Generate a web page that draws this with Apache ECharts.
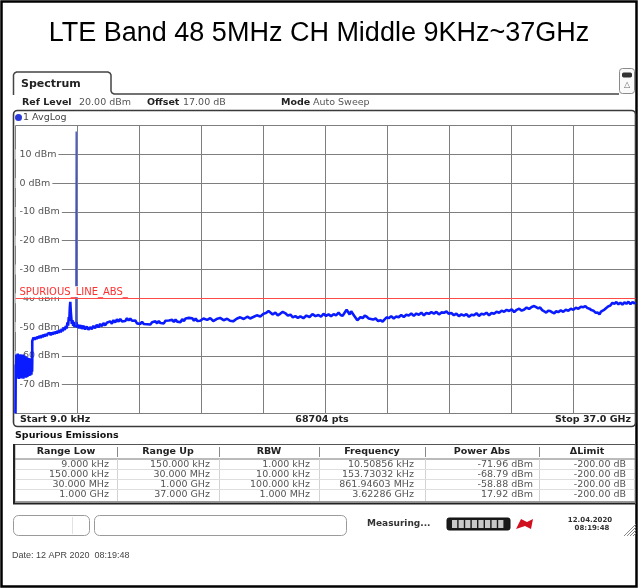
<!DOCTYPE html>
<html>
<head>
<meta charset="utf-8">
<title>LTE Band 48 spurious emissions</title>
<script src="https://cdn.jsdelivr.net/npm/echarts@6/dist/echarts.min.js"></script>
<style>
  html, body { margin: 0; padding: 0; background: #fff; }
  #chart { width: 638px; height: 588px; }
</style>
</head>
<body>
<div id="chart"></div>
<script>
// ---- Sweep settings ----
const chartTitle = 'LTE Band 48 5MHz CH Middle 9KHz~37GHz';
const startGHz = 0.000009;
const stopGHz = 37;
const sweepPoints = 68704;
const refLevelDbm = 20;
const offsetDb = 17;
const limitLevelDbm = -40;
const limitName = 'SPURIOUS_LINE_ABS_';

// ---- Level axis ticks ----
const levelTicks = [10, 0, -10, -20, -30, -40, -50, -60, -70];
const levelTickLabels = ['10 dBm', '0 dBm', '-10 dBm', '-20 dBm', '-30 dBm', '-40 dBm', '-50 dBm', '-60 dBm', '-70 dBm'];

// ---- Spurious emission table (one entry per sub-range) ----
const tableHeaders = ['Range Low', 'Range Up', 'RBW', 'Frequency', 'Power Abs', '\u0394Limit'];
const rangeLow = ['9.000 kHz', '150.000 kHz', '30.000 MHz', '1.000 GHz'];
const rangeUp = ['150.000 kHz', '30.000 MHz', '1.000 GHz', '37.000 GHz'];
const rbw = ['1.000 kHz', '10.000 kHz', '100.000 kHz', '1.000 MHz'];
const peakFreqGHz = [0.00001050856, 0.00015373032, 0.86194603, 3.62286];
const powerAbsDbm = [-71.96, -68.79, -58.88, 17.92];
const deltaLimitDb = [-200, -200, -200, -200];

// ---- AvgLog trace, [frequency GHz, level dBm] ----
const sweepTrace = [
  [0.000009,-80],[0.015,-63],[0.03,-67.5],[0.05,-59.5],[0.07,-66.8],[0.09,-60.2],[0.11,-67.6],[0.13,-59.2],
  [0.15,-66.5],[0.17,-60.8],[0.19,-68.0],[0.21,-59.6],[0.23,-67.2],[0.25,-60.0],[0.27,-66.4],[0.29,-59.4],
  [0.31,-67.8],[0.33,-60.6],[0.35,-66.9],[0.37,-59.8],[0.39,-67.4],[0.41,-60.3],[0.43,-66.2],[0.45,-59.5],
  [0.47,-67.9],[0.49,-60.9],[0.51,-66.7],[0.53,-59.9],[0.55,-67.1],[0.57,-60.4],[0.59,-66.0],[0.61,-60.1],
  [0.63,-67.6],[0.65,-61.0],[0.67,-66.6],[0.69,-60.5],[0.71,-67.3],[0.73,-61.2],[0.75,-66.1],[0.77,-60.7],
  [0.79,-67.0],[0.81,-61.4],[0.83,-66.4],[0.85,-60.8],[0.87,-66.9],[0.89,-61.5],[0.91,-65.8],[0.93,-61.1],
  [0.95,-66.5],[0.97,-61.8],[0.99,-65.5],[1.0,-62.0],[1.0,-54.8],
  [1.02,-54.6],[1.08,-53.6],[1.14,-54.4],[1.20,-53.5],[1.26,-54.2],[1.32,-53.2],[1.38,-53.9],[1.44,-53.0],
  [1.50,-53.8],[1.56,-52.8],[1.62,-53.5],[1.68,-52.6],[1.74,-53.3],[1.80,-52.4],[1.86,-53.1],[1.92,-52.3],
  [1.98,-52.9],[2.04,-52.0],[2.10,-52.8],[2.16,-51.9],[2.22,-52.6],[2.28,-51.7],[2.34,-52.4],[2.40,-51.5],
  [2.46,-52.2],[2.52,-51.3],[2.58,-52.0],[2.64,-51.0],[2.70,-51.8],[2.76,-50.6],[2.82,-51.4],[2.88,-50.2],
  [2.94,-51.0],[3.00,-49.6],[3.05,-50.5],[3.10,-48.4],[3.14,-49.5],[3.18,-46.5],[3.21,-47.8],[3.24,-43.5],
  [3.27,-41.2],[3.30,-44.6],[3.33,-46.8],[3.36,-48.9],[3.40,-47.6],[3.44,-49.6],[3.48,-48.2],[3.52,-50.0],
  [3.56,-48.6],[3.60,-49.4],[3.64,-48.3],[3.68,-50.2],
  [3.72,-49.2],[3.80,-50.4],[3.88,-49.3],[3.96,-50.6],[4.05,-49.5],[4.15,-50.8],[4.25,-49.8],[4.35,-50.9],
  [4.45,-50.0],[4.55,-50.7],[4.65,-49.6],[4.75,-50.4],[4.85,-49.2],[4.95,-50.1],[5.05,-48.9],[5.15,-49.7],
  [5.25,-48.6],[5.35,-49.4],[5.45,-48.5],[5.55,-49.1],[5.65,-48.0],[5.75,-48.8],[5.85,-47.6],[5.95,-48.4],
  [6.05,-47.3],[6.15,-48.1],[6.25,-47.2],[6.35,-48.0],[6.45,-47.4],[6.55,-47.9],[6.65,-46.9],[6.75,-47.7],
  [6.85,-47.0],[6.95,-47.8],[7.05,-48.3],[7.15,-47.7],[7.25,-48.7],[7.35,-48.1],[7.45,-48.9],[7.55,-48.2],
  [7.65,-48.9],[7.75,-48.3],[7.85,-49.0],[7.95,-48.4],[8.05,-49.1],[8.15,-48.3],[8.25,-48.8],[8.35,-48.0],
  [8.45,-48.7],[8.55,-47.9],[8.65,-48.6],[8.75,-48.0],[8.85,-48.7],[8.95,-47.8],[9.05,-48.4],[9.15,-47.7],
  [9.25,-48.3],[9.35,-47.5],[9.45,-48.2],[9.55,-47.4],[9.65,-48.1],[9.75,-47.6],[9.85,-48.3],[9.95,-47.2],
  [10.05,-47.9],[10.15,-47.0],[10.25,-47.6],[10.35,-46.8],[10.45,-47.4],[10.55,-46.9],[10.65,-47.8],[10.75,-47.0],
  [10.85,-47.9],[10.95,-47.3],
  [11.02,-47.8],[11.22,-47.0],[11.44,-47.5],[11.62,-46.9],[11.80,-47.9],[12.00,-47.2],[12.21,-46.8],[12.42,-47.6],
  [12.63,-47.1],[12.80,-47.8],[12.99,-48.0],[13.20,-47.1],[13.41,-46.6],[13.62,-47.2],[13.83,-46.4],[14.00,-47.0],
  [14.19,-46.5],[14.40,-45.9],[14.61,-46.3],[14.80,-45.4],[14.97,-45.0],[15.10,-44.4],[15.21,-44.9],[15.35,-45.6],
  [15.51,-45.0],[15.65,-45.9],[15.81,-45.3],[15.95,-44.7],[16.11,-45.2],[16.25,-46.0],[16.41,-45.7],[16.55,-46.6],
  [16.70,-46.2],[16.85,-46.8],[17.00,-46.3],[17.18,-46.9],[17.36,-46.0],[17.55,-46.5],[17.72,-45.5],[17.90,-46.2],
  [18.08,-45.8],[18.23,-46.4],[18.38,-45.4],[18.53,-46.1],[18.68,-45.6],[18.83,-46.2],[18.98,-45.5],[19.13,-45.9],
  [19.28,-45.0],[19.40,-45.8],[19.52,-46.1],[19.64,-45.0],[19.76,-44.0],[19.85,-44.6],[19.94,-45.6],[20.03,-44.5],
  [20.12,-45.0],[20.20,-46.0],[20.30,-46.3],[20.40,-47.6],[20.48,-47.0],[20.60,-46.5],[20.72,-46.9],[20.84,-46.0],
  [20.96,-46.4],[21.08,-47.0],[21.19,-46.6],[21.34,-47.4],[21.49,-47.0],[21.64,-47.9],[21.79,-47.6],[21.91,-48.1],
  [22.03,-47.3],[22.15,-46.6],[22.27,-46.9],[22.42,-46.2],[22.57,-47.0],[22.72,-46.3],[22.87,-46.6],[23.02,-45.8],
  [23.17,-46.5],[23.32,-45.7],[23.47,-46.0],[23.62,-45.3],[23.77,-46.1],[23.92,-45.3],[24.07,-45.7],[24.22,-45.0],
  [24.37,-45.9],[24.52,-45.1],[24.67,-45.4],[24.82,-44.8],[24.97,-45.3],[25.12,-44.7],[25.27,-45.6],[25.42,-44.9],
  [25.57,-45.0],[25.72,-44.6],[25.86,-45.4],[26.01,-45.1],[26.16,-45.9],[26.31,-45.3],[26.46,-46.2],[26.61,-45.6],
  [26.76,-46.0],[26.91,-45.5],[27.06,-46.4],[27.21,-45.7],[27.36,-45.9],[27.51,-45.2],[27.66,-46.1],[27.81,-45.4],
  [27.96,-45.6],[28.11,-45.0],[28.26,-45.9],[28.41,-45.1],[28.56,-45.4],[28.71,-44.7],[28.86,-45.0],[29.01,-44.3],
  [29.16,-44.7],[29.31,-44.0],[29.46,-44.4],[29.61,-43.8],[29.76,-44.8],[29.91,-44.0],[30.06,-43.6],[30.21,-44.3],
  [30.36,-43.9],[30.50,-43.2],[30.65,-43.7],[30.80,-43.0],[30.95,-42.7],[31.07,-43.1],[31.19,-43.5],[31.31,-43.2],
  [31.43,-44.1],[31.55,-44.5],[31.67,-45.0],[31.79,-44.3],[31.91,-44.4],[32.03,-44.9],[32.15,-45.2],[32.27,-44.5],
  [32.39,-44.8],[32.54,-44.2],[32.69,-44.7],[32.84,-44.0],[32.99,-44.3],[33.14,-43.6],[33.29,-44.0],[33.44,-43.3],
  [33.59,-43.6],[33.74,-42.9],[33.89,-43.1],[34.01,-42.7],[34.13,-43.4],[34.25,-43.6],[34.37,-44.1],[34.49,-44.3],
  [34.61,-45.0],[34.73,-44.9],[34.85,-45.6],[34.94,-44.6],[35.03,-44.9],[35.15,-43.9],[35.26,-44.0],[35.38,-42.8],
  [35.50,-42.5],[35.62,-41.6],[35.74,-41.9],[35.86,-41.3],[35.98,-42.1],[36.10,-41.5],[36.22,-42.2],[36.34,-41.4],
  [36.46,-41.9],[36.58,-41.2],[36.70,-42.0],[36.82,-41.3],[36.94,-41.8],[37.0,-41.4]
];

// Levels either side of the carrier line, used for the narrow carrier spike
const carrierShoulders = [[3.60, -49.4], [3.64, -48.3]];

// ---- helpers ----
function fmtFreq(ghz) {
  if (ghz < 0.001) return (ghz * 1e6).toFixed(5) + ' kHz';
  if (ghz < 1) return (ghz * 1e3).toFixed(5) + ' MHz';
  return ghz.toFixed(5) + ' GHz';
}
function fmtStartStop(ghz) {
  if (ghz < 0.001) return (ghz * 1e6).toFixed(1) + ' kHz';
  if (ghz < 1) return (ghz * 1e3).toFixed(1) + ' MHz';
  return ghz.toFixed(1) + ' GHz';
}
const UI = '"DejaVu Sans", Verdana, sans-serif';
function txt(x, y, s, o) {
  o = o || {};
  return {
    type: 'text', x: x, y: y, z: o.z || 10, silent: true,
    style: {
      text: s,
      font: (o.weight || 'normal') + ' ' + (o.size || 9.5) + 'px ' + (o.family || UI),
      fill: o.color || '#333',
      textAlign: o.align || 'left',
      textVerticalAlign: 'middle'
    }
  };
}
function line(x1, y1, x2, y2, color, w) {
  return { type: 'line', silent: true, z: 10, shape: { x1: x1, y1: y1, x2: x2, y2: y2 },
           style: { stroke: color, lineWidth: w || 1 } };
}
function box(x, y, w, h, r, stroke, lw, fill) {
  const style = { fill: fill || 'none' };
  if (stroke) { style.stroke = stroke; style.lineWidth = lw || 1; }
  return { type: 'rect', silent: true, z: 1, shape: { x: x, y: y, width: w, height: h, r: r }, style: style };
}

// ---- chrome around the trace ----
const g = [];
// outer frame and title
g.push(box(1.5, 1.5, 635, 585, 0, '#000', 2.5));
g.push(txt(319, 34, chartTitle, { size: 27, family: '"Liberation Sans", Arial, sans-serif', color: '#000', align: 'center' }));

// Spectrum tab and header rows
g.push({ type: 'polyline', silent: true, z: 1,
  shape: { points: [[13.5, 95], [13.5, 75], [14.5, 73], [16.5, 72], [108, 72], [110, 73], [111, 75],
                    [111, 91], [112, 93], [114, 94], [619, 94]] },
  style: { stroke: '#444', lineWidth: 1.5, fill: null } });
g.push(txt(21, 84, 'Spectrum', { size: 11, weight: 'bold', color: '#222' }));
g.push(box(619.5, 68.5, 15, 25, 3, '#8a8a8a', 1, '#fafafa'));
g.push(box(622.5, 73, 9, 4, 1, '#333', 1, '#333'));
g.push(txt(627, 85, '\u25B3', { size: 8, color: '#666', align: 'center' }));

g.push(txt(22, 103, 'Ref Level', { size: 9.5, weight: 'bold', color: '#222' }));
g.push(txt(79, 103, refLevelDbm.toFixed(2) + ' dBm', { size: 9.5, color: '#555' }));
g.push(txt(147, 103, 'Offset', { size: 9.5, weight: 'bold', color: '#222' }));
g.push(txt(183, 103, offsetDb.toFixed(2) + ' dB', { size: 9.5, color: '#555' }));
g.push(txt(281, 103, 'Mode', { size: 9.5, weight: 'bold', color: '#222' }));
g.push(txt(313, 103, 'Auto Sweep', { size: 9.5, color: '#555' }));

// diagram frame
g.push(box(13.5, 110.5, 622, 316, 4, '#3a3a3a', 1.6));
g.push({ type: 'circle', silent: true, z: 10, shape: { cx: 18.5, cy: 117.5, r: 3.5 }, style: { fill: '#2a3ad8' } });
g.push(txt(23, 117.5, '1 AvgLog', { size: 9.5, color: '#444' }));
g.push(txt(20, 420, 'Start ' + fmtStartStop(startGHz), { size: 9.5, weight: 'bold', color: '#222' }));
g.push(txt(322, 420, sweepPoints + ' pts', { size: 9.5, weight: 'bold', color: '#222', align: 'center' }));
g.push(txt(631, 420, 'Stop ' + fmtStartStop(stopGHz), { size: 9.5, weight: 'bold', color: '#222', align: 'right' }));

// spurious emission table
g.push(txt(15, 436, 'Spurious Emissions', { size: 9.5, weight: 'bold', color: '#111' }));
const colSep = [15, 117, 219, 319, 425, 539, 635];
const colRight = [109, 210, 310, 414, 533, 626];
g.push(box(15, 444.5, 620, 57, 0, '#999', 1, '#fff'));
g.push(line(15, 444.5, 635, 444.5, '#555', 1));
g.push(line(15, 459, 635, 459, '#777', 1));
g.push(line(14, 444, 14, 504, '#222', 2));
g.push(line(13, 503.5, 636, 503.5, '#222', 2));
g.push(line(635.5, 444, 635.5, 504, '#555', 1));
for (let c = 0; c < tableHeaders.length; c++) {
  g.push(txt((colSep[c] + colSep[c + 1]) / 2, 451.5, tableHeaders[c], { size: 9.5, weight: 'bold', color: '#222', align: 'center' }));
  if (c > 0) {
    g.push(line(colSep[c] + 0.5, 447, colSep[c] + 0.5, 457, '#888', 1));
    g.push(line(colSep[c] + 0.5, 459, colSep[c] + 0.5, 501, '#d2d2d2', 1));
  }
}
const rowY = [464.5, 474.5, 484.5, 494.5];
for (let r = 0; r < rowY.length; r++) {
  if (r > 0) g.push(line(15, rowY[r] - 5, 635, rowY[r] - 5, '#dedede', 1));
  const cells = [rangeLow[r], rangeUp[r], rbw[r], fmtFreq(peakFreqGHz[r]),
                 powerAbsDbm[r].toFixed(2) + ' dBm', deltaLimitDb[r].toFixed(2) + ' dB'];
  cells.forEach(function (s, c) {
    g.push(txt(colRight[c], rowY[r], s, { size: 9.5, color: '#555', align: 'right' }));
  });
}

// status bar
g.push(box(13.5, 515.5, 76, 20, 5, '#9a9a9a', 1, '#fff'));
g.push(line(72.5, 517, 72.5, 534, '#e2e2e2', 1));
g.push(box(94.5, 515.5, 252, 20, 5, '#9a9a9a', 1, '#fff'));
g.push(txt(367, 524, 'Measuring...', { size: 9, weight: 'bold', color: '#333' }));
g.push(box(447, 518, 63, 12, 2, '#111', 1, '#1a1a1a'));
for (let k = 0; k < 8; k++) {
  g.push(box(452 + k * 6.6, 520, 5.2, 8, 0, null, 0, '#c9c9c9'));
}
g.push({ type: 'polygon', silent: true, z: 10, shape: { points: [[516, 529], [521, 519], [527, 522], [533, 519], [531, 529], [525, 526]] },
         style: { fill: '#d0101e' } });
g.push(txt(590, 520, '12.04.2020', { size: 7, weight: 'bold', color: '#333', align: 'center' }));
g.push(txt(592, 528, '08:19:48', { size: 7, weight: 'bold', color: '#333', align: 'center' }));
for (let k = 0; k < 4; k++) {
  g.push(line(624 + k * 3, 536, 636, 524 + k * 3, '#888', 1));
}

// footer
g.push(txt(12, 556, 'Date: 12 APR 2020  08:19:48', { size: 9, family: '"Liberation Sans", Arial, sans-serif', color: '#444' }));

// ---- chart ----
const chart = echarts.init(document.getElementById('chart'), null, { renderer: 'canvas' });
const gridColor = '#7e7e7e';
chart.setOption({
  animation: false,
  backgroundColor: '#fff',
  grid: { left: 15.5, right: 2.5, top: 125.5, bottom: 174.5, containLabel: false },
  xAxis: {
    type: 'value', min: 0, max: stopGHz, interval: stopGHz / 10,
    axisLine: { show: false }, axisTick: { show: false }, axisLabel: { show: false },
    splitLine: { show: true, lineStyle: { color: gridColor, width: 1 } }
  },
  yAxis: [
    {
      type: 'value', min: -80, max: refLevelDbm, interval: 10, z: 0,
      axisLine: { show: false }, axisTick: { show: false }, axisLabel: { show: false },
      splitLine: { show: true, lineStyle: { color: gridColor, width: 1 } }
    },
    {
      type: 'value', position: 'left', min: -80, max: refLevelDbm, interval: 10, z: 1,
      axisLine: { show: false }, axisTick: { show: false }, splitLine: { show: false },
      axisLabel: {
        inside: true, margin: 0, color: '#555', fontSize: 9.5, fontFamily: UI,
        backgroundColor: '#fff', padding: [0, 2, 0, 4],
        formatter: function (v) {
          const i = levelTicks.indexOf(v);
          return i >= 0 ? levelTickLabels[i] : '';
        }
      }
    }
  ],
  series: [
    {
      name: 'AvgLog', type: 'line', data: sweepTrace, showSymbol: false, symbol: 'none',
      xAxisIndex: 0, yAxisIndex: 0, z: 3, clip: true,
      lineStyle: { color: '#0a1cff', width: 2.6 }
    },
    {
      name: 'Carrier', type: 'line', showSymbol: false, symbol: 'none', xAxisIndex: 0, yAxisIndex: 0, z: 3,
      data: [carrierShoulders[0], [peakFreqGHz[3], powerAbsDbm[3]], carrierShoulders[1]],
      lineStyle: { color: '#3c50d8', width: 1.4 },
      markLine: {
        silent: true, symbol: 'none', animation: false,
        lineStyle: { color: '#ff4a4a', width: 1, type: 'solid' },
        label: {
          show: true, position: 'insideStartTop', formatter: limitName, distance: [3, 1],
          color: '#ff3030', fontSize: 10, fontFamily: UI, backgroundColor: '#fff', padding: [1, 1, 0, 1]
        },
        data: [{ yAxis: limitLevelDbm }]
      }
    }
  ],
  graphic: g
});
</script>
</body>
</html>
